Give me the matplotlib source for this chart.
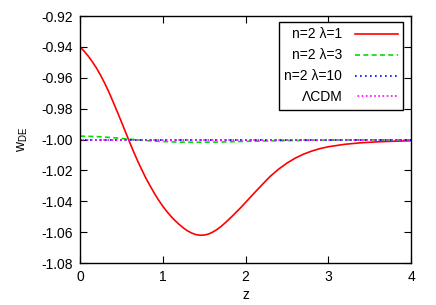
import matplotlib
matplotlib.use("Agg")
import matplotlib.pyplot as plt

plt.rcParams['font.family'] = ['Liberation Sans', 'DejaVu Sans']
plt.rcParams['font.size'] = 10
plt.rcParams['axes.unicode_minus'] = False
plt.rcParams['mathtext.fontset'] = 'custom'
plt.rcParams['mathtext.rm'] = 'Liberation Sans'
plt.rcParams['mathtext.it'] = 'Liberation Sans'

# n=2, lambda=1
z_l1 = [0.00, 0.05, 0.10, 0.15, 0.20, 0.25, 0.30, 0.35, 0.40, 0.45, 0.50, 0.55, 0.60,
        0.65, 0.70, 0.75, 0.80, 0.85, 0.90, 0.95, 1.00, 1.05, 1.10, 1.15, 1.20, 1.25,
        1.30, 1.35, 1.40, 1.45, 1.50, 1.55, 1.60, 1.65, 1.70, 1.75, 1.80, 1.85, 1.90,
        1.95, 2.00, 2.10, 2.20, 2.30, 2.40, 2.50, 2.60, 2.70, 2.80, 2.90, 3.00, 3.20,
        3.40, 3.60, 3.80, 4.00]
w_l1 = [-0.9400, -0.9428, -0.9460, -0.9497, -0.9538, -0.9585, -0.9637, -0.9694, -0.9756,
        -0.9820, -0.9885, -0.9952, -1.0018, -1.0082, -1.0143, -1.0200, -1.0254, -1.0303,
        -1.0350, -1.0393, -1.0432, -1.0467, -1.0498, -1.0526, -1.0551, -1.0573, -1.0592,
        -1.0606, -1.0616, -1.0620, -1.0619, -1.0613, -1.0601, -1.0585, -1.0565, -1.0542,
        -1.0517, -1.0491, -1.0464, -1.0437, -1.0408, -1.0350, -1.0293, -1.0238, -1.0192,
        -1.0153, -1.0121, -1.0095, -1.0075, -1.0059, -1.0047, -1.0031, -1.0021, -1.0015,
        -1.0011, -1.0008]

# n=2, lambda=3
z_l3 = [0.0, 0.2, 0.4, 0.6, 0.8, 1.0, 1.2, 1.4, 1.6, 1.8, 2.0, 2.4, 2.8, 3.2, 4.0]
w_l3 = [-0.9978, -0.9981, -0.9988, -0.9998, -1.0007, -1.0013, -1.0017, -1.0018,
        -1.0017, -1.0015, -1.0012, -1.0008, -1.0005, -1.0003, -1.0002]

# n=2, lambda=10 and LCDM
z_flat = [0.0, 4.0]
w_l10 = [-1.0, -1.0]
w_lcdm = [-1.0, -1.0]

fig = plt.figure(figsize=(4.36, 3.05), dpi=100)
ax = fig.add_axes([0.1835, 0.1377, 0.7592, 0.8098])

ax.plot(z_l1, w_l1, color='#ff0000', lw=1.2, label='n=2 λ=1')
ax.plot(z_l3, w_l3, color='#00dd00', lw=1.2, ls=(0, (3, 2)), label='n=2 λ=3')
ax.plot(z_flat, w_l10, color='#0000ff', lw=1.2, ls=(0, (1, 2)), label='n=2 λ=10')
ax.plot(z_flat, w_lcdm, color='#ff00ff', lw=1.2, ls=(1, (1, 1.5)), label='ΛCDM')

ax.set_xlim(0, 4)
ax.set_ylim(-1.08, -0.92)
ax.set_xticks([0, 1, 2, 3, 4])
ax.set_yticks([-1.08, -1.06, -1.04, -1.02, -1.00, -0.98, -0.96, -0.94, -0.92])
ax.yaxis.set_major_formatter(matplotlib.ticker.FormatStrFormatter('%.2f'))
ax.tick_params(direction='in', top=True, right=True, length=5, width=0.8, pad=5)
for s in ax.spines.values():
    s.set_linewidth(1.0)

ax.set_xlabel('z', labelpad=3)
ax.set_ylabel(r'$\mathregular{w_{DE}}$', labelpad=8)

leg = ax.legend(loc='upper right', bbox_to_anchor=(0.977, 0.976), markerfirst=False,
                handlelength=3.1, fancybox=False, framealpha=1, edgecolor='black',
                borderpad=0.4, labelspacing=0.5, handletextpad=0.9, borderaxespad=0)
leg.get_frame().set_linewidth(1.0)
for t in leg.get_texts():
    t.set_ha('right')

fig.savefig('out.png', dpi=100)
